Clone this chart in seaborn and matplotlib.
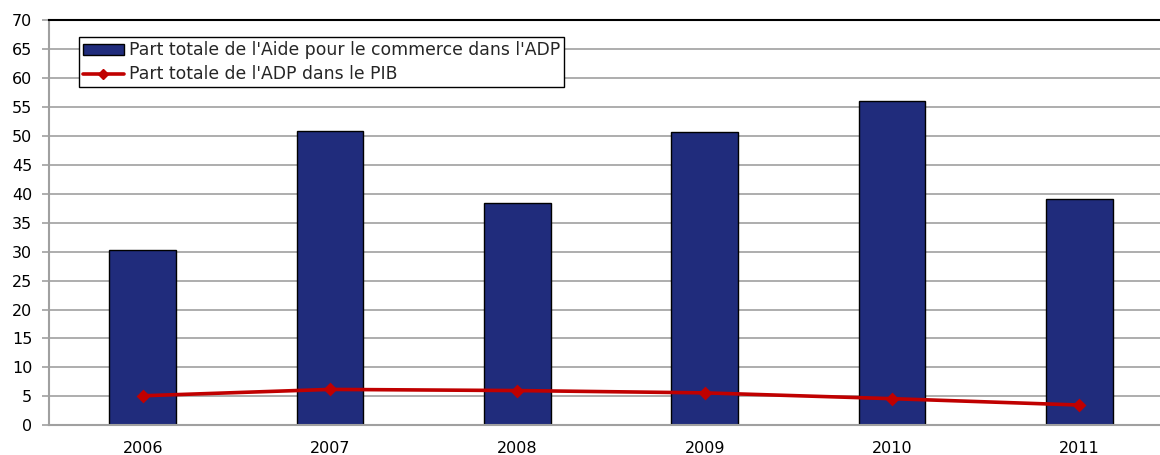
import matplotlib
matplotlib.use("Agg")
import matplotlib.pyplot as plt
import seaborn as sns
import pandas as pd
from matplotlib.patches import Patch
from matplotlib.lines import Line2D

years = ["2006", "2007", "2008", "2009", "2010", "2011"]
aide_commerce = [30.3, 50.9, 38.4, 50.7, 56.0, 39.1]
adp_pib = [5.1, 6.2, 6.0, 5.6, 4.6, 3.5]
label_bars = "Part totale de l'Aide pour le commerce dans l'ADP"
label_line = "Part totale de l'ADP dans le PIB"
yticks = list(range(0, 71, 5))

BAR_COLOR = "#202C7C"
LINE_COLOR = "#C00000"
GRID_COLOR = "#A0A0A0"

sns.set_style("white")
plt.rcParams["font.family"] = ["DejaVu Sans"]

df = pd.DataFrame({"year": years, "aide": aide_commerce, "pib": adp_pib})

fig = plt.figure(figsize=(11.6, 4.55), dpi=100)
ax = fig.add_axes([49 / 1160, (455 - 425.3) / 455, 1124 / 1160, 405.3 / 455])

sns.barplot(data=df, x="year", y="aide", order=years, color=BAR_COLOR,
            saturation=1, width=0.356, edgecolor="black", linewidth=1.0,
            ax=ax, zorder=2)
sns.pointplot(data=df, x="year", y="pib", order=years, color=LINE_COLOR,
              markers="D", markersize=5, linewidth=2.6, ax=ax, zorder=3)

ax.set_xlim(-0.5, 5.5)
ax.set_ylim(0, 70)
ax.set_yticks(yticks)
ax.set_yticklabels([str(v) for v in yticks])
ax.yaxis.grid(True, color=GRID_COLOR, linewidth=1.2, zorder=0)
ax.set_axisbelow(True)
ax.set_xlabel("")
ax.set_ylabel("")

# x ticks: labels at centres, tick marks at category boundaries
ax.set_xticks(range(len(years)))
ax.set_xticklabels(years)
ax.set_xticks([i - 0.5 for i in range(len(years) + 1)], minor=True)
ax.tick_params(axis="x", which="major", length=0, pad=11, labelsize=11.5,
               colors="black")
ax.tick_params(axis="x", which="minor", length=5, width=1.2, color=GRID_COLOR,
               direction="out")
ax.tick_params(axis="y", which="major", length=5, width=1.2, color=GRID_COLOR,
               labelsize=11.5, labelcolor="black", pad=7, left=True)

for side in ["left", "bottom"]:
    ax.spines[side].set_color(GRID_COLOR)
    ax.spines[side].set_linewidth(1.5)
ax.spines["top"].set_color("black")
ax.spines["top"].set_linewidth(1.5)
ax.spines["right"].set_visible(False)

handles = [
    Patch(facecolor=BAR_COLOR, edgecolor="black", linewidth=1.0),
    Line2D([0], [0], color=LINE_COLOR, linewidth=2.6, marker="D",
           markersize=5),
]
leg = ax.legend(handles, [label_bars, label_line], loc="upper left",
                bbox_to_anchor=(0.0267, 0.957), borderaxespad=0,
                fontsize=12.4, frameon=True, fancybox=False,
                handlelength=2.4, handleheight=0.6, handletextpad=0.28,
                borderpad=0.22, labelspacing=0.36)
leg.get_frame().set_edgecolor("black")
leg.get_frame().set_linewidth(1.0)
leg.get_frame().set_alpha(1)

fig.savefig("out.png", dpi=100)
